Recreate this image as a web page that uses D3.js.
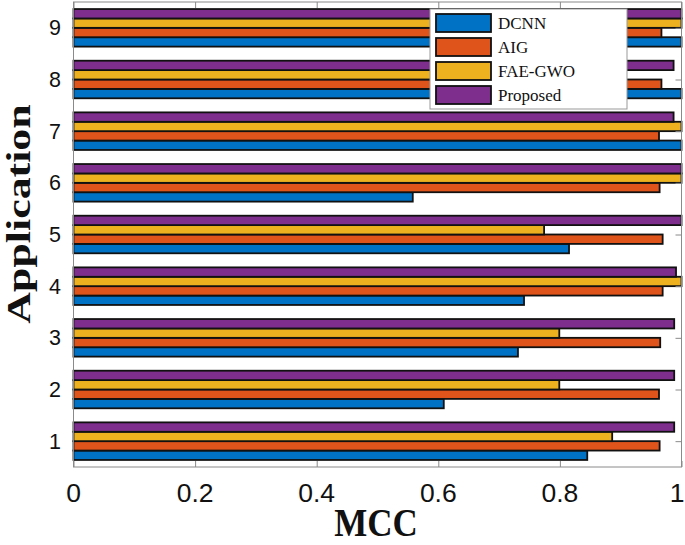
<!DOCTYPE html>
<html>
<head>
<meta charset="utf-8">
<script src="https://cdn.jsdelivr.net/npm/d3@7"></script>
<style>
  html, body { margin: 0; padding: 0; background: #fff; }
  svg { display: block; }
</style>
</head>
<body>
<svg id="chart" width="685" height="545"></svg>
<script>
const categories = [1, 2, 3, 4, 5, 6, 7, 8, 9];
const seriesNames = ["DCNN", "AIG", "FAE-GWO", "Proposed"];
const dcnn     = [0.845, 0.609, 0.731, 0.741, 0.815, 0.558, 1.0, 1.0, 1.0];
const aig      = [0.964, 0.963, 0.965, 0.969, 0.969, 0.964, 0.963, 0.967, 0.967];
const faeGwo   = [0.886, 0.799, 0.799, 1.0, 0.774, 1.0, 1.0, 0.88, 1.0];
const proposed = [0.988, 0.988, 0.988, 0.991, 1.0, 1.0, 0.987, 0.987, 1.0];
const xTicks = [0, 0.2, 0.4, 0.6, 0.8, 1];
const xTickLabels = ["0", "0.2", "0.4", "0.6", "0.8", "1"];
const colors = ["#0072C6", "#DE541B", "#EDB120", "#7E2F8E"];

const seriesValues = [dcnn, aig, faeGwo, proposed];

const svg = d3.select("#chart");
const pLeft = 73.5, pRight = 681.5, pTop = 2, pBottom = 467;

const x = d3.scaleLinear().domain([0, 1]).range([pLeft, pRight]);
const y = d3.scaleLinear().domain([0.5, 9.5]).range([pBottom, pTop]);

const groupW = 4 / (4 + 1.5);
const barW = groupW / 4;

// bars
seriesValues.forEach((vals, si) => {
  const off = -groupW / 2 + (si + 0.5) * barW;
  svg.append("g").selectAll("rect")
    .data(categories.map((c, i) => ({ c, v: vals[i] })))
    .join("rect")
    .attr("x", x(0))
    .attr("y", d => y(d.c + off + barW / 2))
    .attr("width", d => x(d.v) - x(0))
    .attr("height", d => y(d.c + off - barW / 2) - y(d.c + off + barW / 2))
    .attr("fill", colors[si])
    .attr("stroke", "#111")
    .attr("stroke-width", 1.8);
});

// axis box & ticks
const axisColor = "#8a8a8a";
svg.append("rect")
  .attr("x", pLeft).attr("y", pTop)
  .attr("width", pRight - pLeft).attr("height", pBottom - pTop)
  .attr("fill", "none").attr("stroke", axisColor).attr("stroke-width", 1);

const xAxisB = d3.axisBottom(x).tickValues(xTicks).tickSize(-6).tickFormat("");
const xAxisT = d3.axisTop(x).tickValues(xTicks).tickSize(-6).tickFormat("");
const yAxisR = d3.axisRight(y).tickValues(categories).tickSize(-6).tickFormat("");
[ [xAxisB, `translate(0,${pBottom})`], [xAxisT, `translate(0,${pTop})`], [yAxisR, `translate(${pRight},0)`] ]
  .forEach(([ax, tr]) => {
    const g = svg.append("g").attr("transform", tr).call(ax);
    g.select(".domain").remove();
    g.selectAll("line").attr("stroke", axisColor);
  });

// x tick labels
svg.append("g").selectAll("text")
  .data(xTicks)
  .join("text")
  .attr("x", d => Math.min(x(d), 677))
  .attr("y", 501.5)
  .attr("text-anchor", "middle")
  .attr("font-family", "Liberation Sans, Arial, sans-serif")
  .attr("font-size", 26.5)
  .attr("fill", "#111")
  .text((d, i) => xTickLabels[i]);

// y tick labels
svg.append("g").selectAll("text")
  .data(categories)
  .join("text")
  .attr("x", 61)
  .attr("y", d => y(d) + 7.6)
  .attr("text-anchor", "end")
  .attr("font-family", "Liberation Sans, Arial, sans-serif")
  .attr("font-size", 21.5)
  .attr("fill", "#111")
  .text(d => d);

// axis titles
svg.append("text")
  .attr("transform", "translate(376,536) scale(1,1.15)")
  .attr("text-anchor", "middle")
  .attr("font-family", "Liberation Serif, Times New Roman, serif")
  .attr("font-weight", "bold")
  .attr("font-size", 35)
  .attr("fill", "#111")
  .text("MCC");

svg.append("text")
  .attr("transform", "translate(29.5,214) rotate(-90) scale(1.33,1)")
  .attr("text-anchor", "middle")
  .attr("font-family", "Liberation Serif, Times New Roman, serif")
  .attr("font-weight", "bold")
  .attr("font-size", 33)
  .attr("fill", "#111")
  .text("Application");

// legend
const lg = svg.append("g");
lg.append("rect")
  .attr("x", 430).attr("y", 9).attr("width", 197).attr("height", 100)
  .attr("fill", "#fff").attr("stroke", "#999").attr("stroke-width", 1);
seriesNames.forEach((name, i) => {
  const cy = 23 + i * 24;
  lg.append("rect")
    .attr("x", 436).attr("y", cy - 9).attr("width", 55).attr("height", 18)
    .attr("fill", colors[i]).attr("stroke", "#111").attr("stroke-width", 1.8);
  lg.append("text")
    .attr("x", 498).attr("y", cy + 6)
    .attr("font-family", "Liberation Serif, Times New Roman, serif")
    .attr("font-size", 17)
    .attr("fill", "#111")
    .text(name);
});
</script>
</body>
</html>
